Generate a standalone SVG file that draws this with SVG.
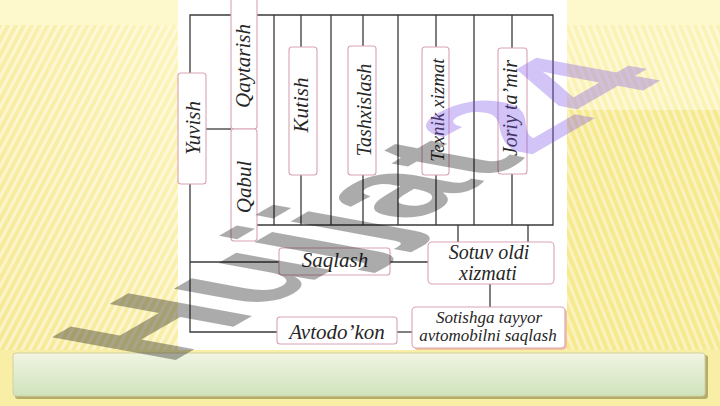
<svg xmlns="http://www.w3.org/2000/svg" width="720" height="406" viewBox="0 0 720 406">
<defs>
<style>
.ln{fill:none;stroke:#3a3a3a;stroke-width:1.3}
.bx{fill:#fff;stroke:#d9a3b6;stroke-width:1.1}
.t{font-family:"Liberation Serif","Times New Roman",serif;font-style:italic;fill:#262626;text-anchor:middle}
.v{font-size:20px}
.h{font-size:21px}
.m{font-size:20px}
.s{font-size:17px}
</style>
<pattern id="stL" width="7" height="7" patternUnits="userSpaceOnUse" patternTransform="rotate(28)"><rect width="3" height="7" fill="#fff" opacity="0.5"/></pattern>
<pattern id="stR" width="7" height="7" patternUnits="userSpaceOnUse" patternTransform="rotate(-22)"><rect width="3" height="7" fill="#fff" opacity="0.45"/></pattern>
<linearGradient id="gL" x1="1" y1="0" x2="0" y2="1"><stop offset="0" stop-color="#fcf4bc"/><stop offset="1" stop-color="#f6e893"/></linearGradient>
<linearGradient id="gB" x1="0" y1="0" x2="0" y2="1"><stop offset="0" stop-color="#f1f5e2"/><stop offset="1" stop-color="#cfe3bc"/></linearGradient>
</defs>
<g id="background">
<rect width="720" height="406" fill="#fef9cd"/>
<rect x="0" y="25" width="178" height="330" fill="url(#gL)"/>
<rect x="0" y="25" width="178" height="330" fill="url(#stL)"/>
<rect x="567" y="25" width="153" height="85" fill="#fbf3b6"/>
<rect x="567" y="110" width="153" height="245" fill="#f6e98e"/>
<rect x="567" y="25" width="153" height="330" fill="url(#stR)"/>
<rect x="0" y="350" width="720" height="56" fill="#f8eea6"/>
<rect x="178" y="0" width="389" height="350" fill="#ffffff"/>
</g>
<g id="connectors" class="ln">
<path d="M190,73 V15 H553 V225 H257"/>
<path d="M190,184 V332 H277"/>
<path d="M190,262 H279"/>
<path d="M206,129 H231"/>
<path d="M274,15 V225 M331,15 V225 M398,15 V225 M474,15 V225"/>
<path d="M301,15 V47 M301,175 V225"/>
<path d="M363,15 V46 M363,175 V225"/>
<path d="M436,15 V47 M436,175 V225"/>
<path d="M512,15 V48 M512,174 V225"/>
<path d="M458,225 V242 M528,225 V242"/>
<path d="M390,262 H428"/>
<path d="M490,284 V307"/>
<path d="M397,332 H412"/>
</g>
<g id="n-yuvish"><rect class="bx" x="178" y="73" width="28" height="111" rx="3"/><text class="t h" transform="translate(200,128) rotate(-90)">Yuvish</text></g>
<g id="n-qaytarish"><rect class="bx" x="231" y="-3" width="26" height="132" rx="3"/><text class="t h" transform="translate(250,66) rotate(-90)">Qaytarish</text></g>
<g id="n-qabul"><rect class="bx" x="231" y="129" width="26" height="112" rx="3"/><text class="t h" transform="translate(251,187) rotate(-90)">Qabul</text></g>
<g id="n-kutish"><rect class="bx" x="289" y="47" width="28" height="128" rx="3"/><text class="t h" transform="translate(308,105) rotate(-90)">Kutish</text></g>
<g id="n-tashxislash"><rect class="bx" x="348" y="46" width="28" height="129" rx="3"/><text class="t v" transform="translate(371,110) rotate(-90)">Tashxislash</text></g>
<g id="n-texnik"><rect class="bx" x="422" y="47" width="27" height="128" rx="3"/><text class="t" style="font-size:19px" transform="translate(444,110) rotate(-90)">Texnik xizmat</text></g>
<g id="n-joriy"><rect class="bx" x="498" y="48" width="29" height="126" rx="3"/><text class="t v" transform="translate(517,108) rotate(-90)">Joriy ta’mir</text></g>
<g id="n-saqlash"><rect class="bx" x="279" y="248" width="111" height="27" rx="3"/><text class="t h" x="335" y="267">Saqlash</text></g>
<g id="n-sotuv"><rect class="bx" x="428" y="242" width="126" height="42" rx="4"/><text class="t m" x="489" y="259">Sotuv oldi</text><text class="t m" x="488" y="280">xizmati</text></g>
<g id="n-avtodokon"><rect class="bx" x="277" y="317" width="120" height="27" rx="3"/><text class="t h" x="337" y="339">Avtodo’kon</text></g>
<g id="n-sotishga"><rect x="414" y="309" width="153" height="41" rx="4" fill="#f3c79a"/><rect class="bx" x="412" y="307" width="153" height="41" rx="4"/><text class="t s" x="489" y="323">Sotishga tayyor</text><text class="t s" x="488" y="341">avtomobilni saqlash</text></g>
<g id="bottom-bar"><rect x="15" y="355" width="693" height="44" rx="3" fill="#b4ac6a"/><rect x="13" y="353" width="692" height="43" rx="3" fill="url(#gB)" stroke="#d2d0a0" stroke-width="1"/></g>
<g id="watermark" font-family="Liberation Sans, Arial, sans-serif" font-weight="bold" font-size="100">
<text transform="matrix(1.3,-0.75,1.8,0.33,167,365)"><tspan fill="#000" fill-opacity="0.33">Hujjat</tspan><tspan fill="#7a52e8" fill-opacity="0.34">24</tspan></text>
</g>
</svg>
